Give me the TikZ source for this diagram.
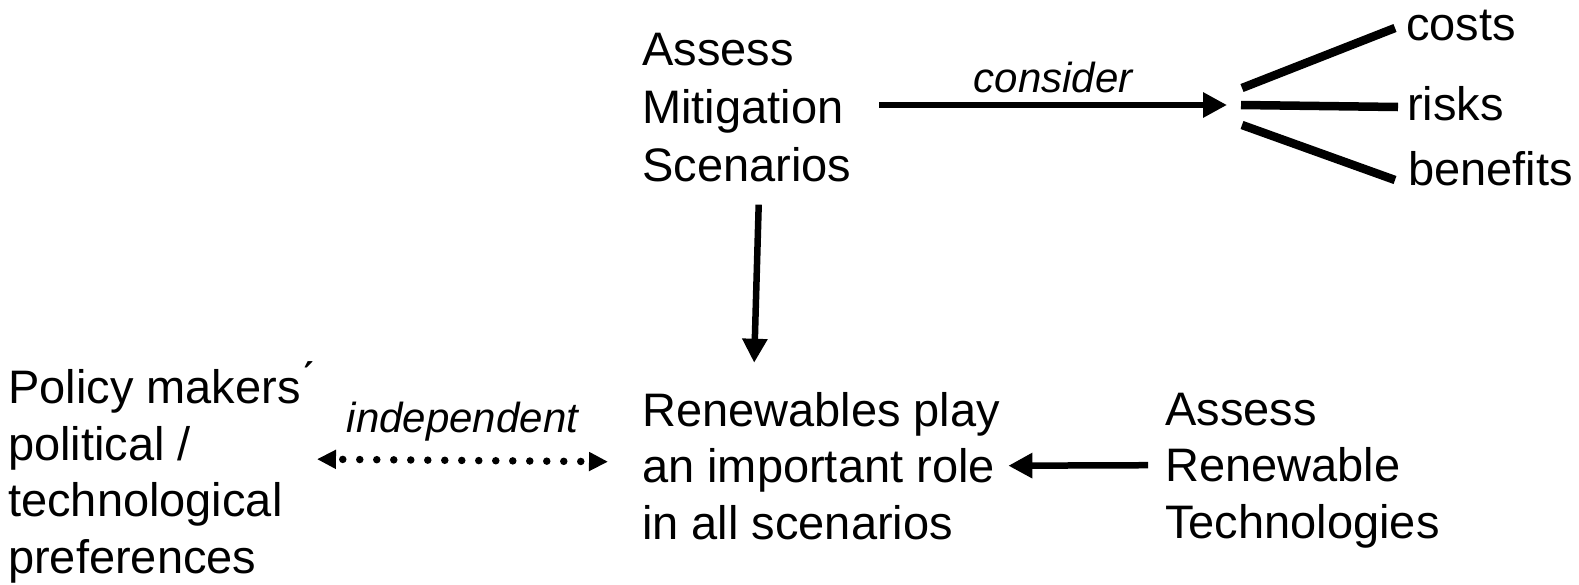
\documentclass[tikz,border=0pt]{standalone}
\usepackage{fontspec}
\setmainfont{Liberation Sans}
\usetikzlibrary{arrows.meta,positioning,calc}

\begin{document}
\begin{tikzpicture}[x=1pt, y=-1pt, >={Triangle[length=24pt,width=24pt]},
  txt/.style={align=left, inner sep=0pt, anchor=base west, font=\fontsize{47}{56.5}\selectfont},
  lbl/.style={inner sep=0pt, font=\fontsize{42}{48}\selectfont\itshape},
  arr/.style={->, line width=6.5pt},
  fan/.style={line width=8.5pt}]
	  \useasboundingbox (0,0) rectangle (1579,584);
	  % base = baseline of the last line
	  \node[txt, font=\fontsize{47}{58}\selectfont] (mitig) at (642,181) {Assess\\Mitigation\\Scenarios};
	  \node[txt] (role) at (642,539) {Renewables play\\an important role\\in all scenarios};
	  \node[txt] (tech) at (1165,538) {Assess\\Renewable\\Technologies};
	  \node[txt] (policy) at (8,573) {Policy makers\'{}\\political /\\technological\\preferences};
	  \node[txt] (costs) at (1406,40) {costs};
	  \node[txt] (risks) at (1407,120) {risks};
	  \node[txt] (benefits) at (1408,185) {benefits};
	  \coordinate (hub) at (1227,105);
	  \draw[arr] ($(mitig.east |- hub)+(28,0)$) -- node[lbl, above=9pt] (consider) {consider} (hub);
	  \draw[fan] ([shift={(15,-17)}]hub) -- ([shift={(-11,-12)}]costs.base west);
	  \draw[fan] ([shift={(14,0)}]hub) -- ([shift={(-9,-13)}]risks.base west);
	  \draw[fan] ([shift={(15,20)}]hub) -- ([shift={(-13,-5)}]benefits.base west);
	  \draw[arr] ([shift={(12,23)}]mitig.south) -- ([shift={(-67,-29)}]role.north);
	  \draw[arr] ([shift={(-17,-5)}]tech.west) -- ([xshift=8pt]role.east);
	  \draw[{Triangle[length=19pt,width=18pt]}-{Triangle[length=19pt,width=18pt]}, line width=7.5pt, line cap=round, dash pattern=on 0pt off 17pt, dash phase=9pt]
	    ([shift={(3,-13)}]policy.east) -- node[lbl, above=15pt] (indep) {independent} ([shift={(-34,-4)}]role.west);
	\end{tikzpicture}
\end{document}
